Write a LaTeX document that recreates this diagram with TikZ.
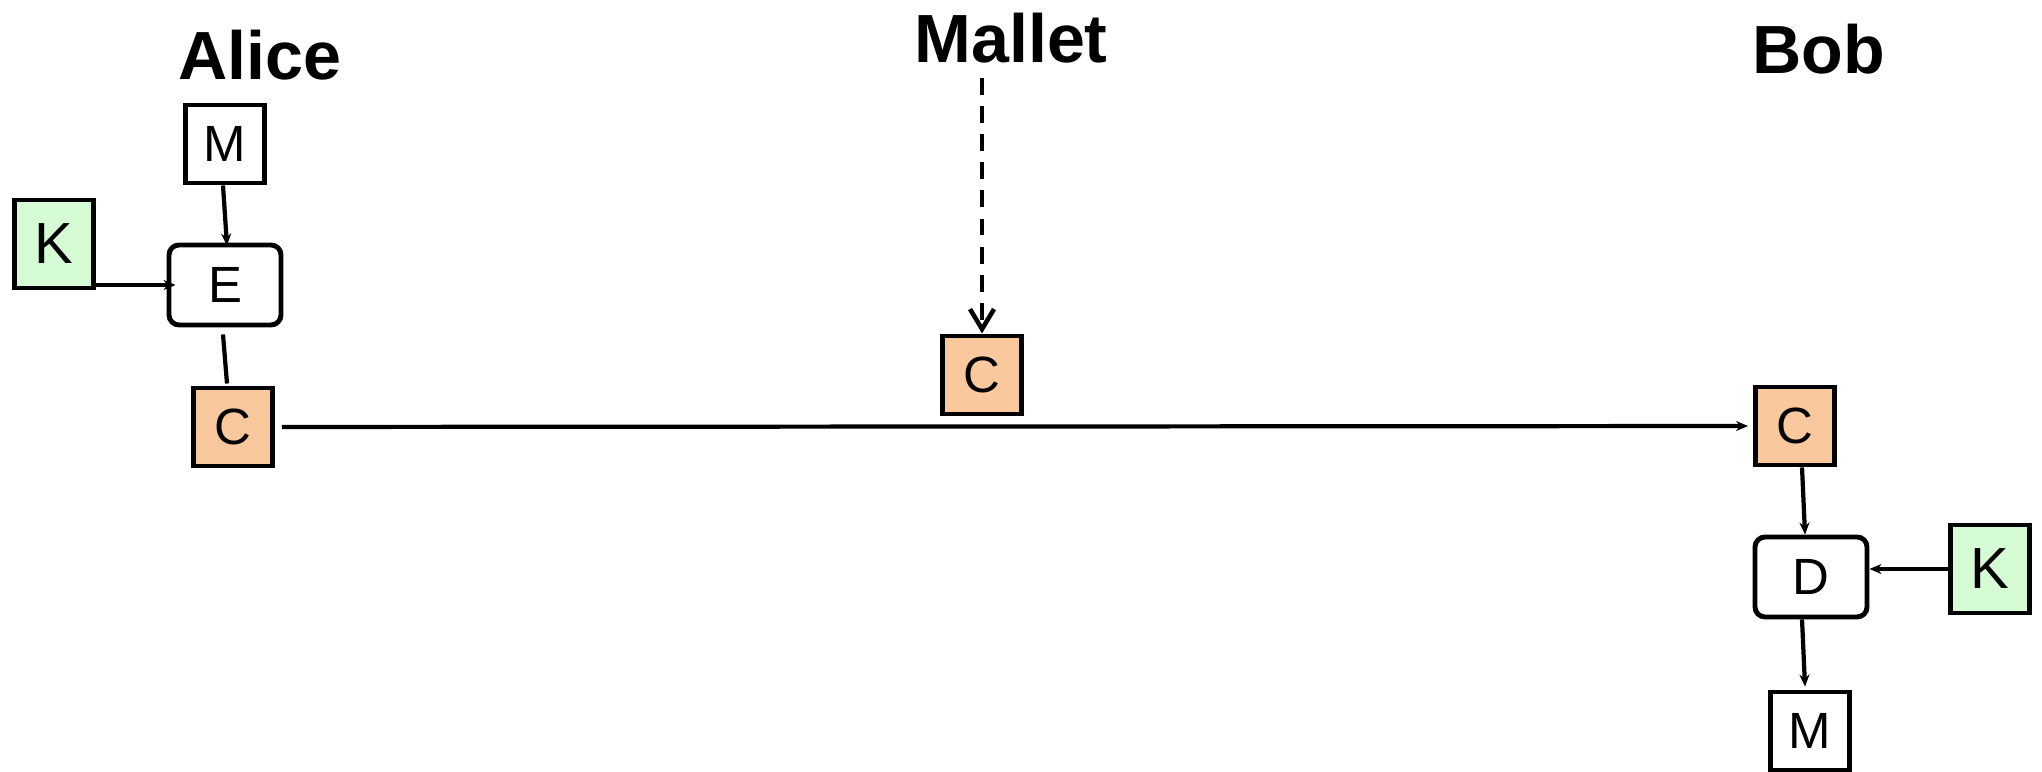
\documentclass[tikz,border=0pt]{standalone}
\usepackage{fontspec}
\setmainfont{Liberation Sans}
\usetikzlibrary{arrows.meta}
\definecolor{keygreen}{RGB}{213,252,213}
\definecolor{cipherorange}{RGB}{249,200,157}

\begin{document}
\begin{tikzpicture}[
    box/.style={draw,line width=1.4pt,minimum width=0.79cm,minimum height=0.78cm,inner sep=0pt,font=\fontsize{14.5}{14.5}\selectfont},
    keybox/.style={box,fill=keygreen,minimum height=0.88cm,font=\fontsize{16.5}{16.5}\selectfont},
    cbox/.style={box,fill=cipherorange},
    op/.style={box,rounded corners=0.1cm,minimum width=1.12cm,minimum height=0.80cm},
    party/.style={font=\fontsize{19.4}{20}\selectfont\bfseries,anchor=base},
    flow/.style={line width=1.2pt,-{Stealth[length=0.12cm,width=0.10cm]}}
]
    \useasboundingbox (0,0) rectangle (20.42,-7.72);
    % Alice
    \begin{scope}
        \node[party] (alice) at (2.60,-0.80) {Alice};
        \node[box] (aliceM) at (2.25,-1.44) {M};
        \node[keybox] (aliceK) at (0.54,-2.44) {K};
        \node[op] (aliceE) at (2.25,-2.85) {E};
        \node[cbox] (aliceC) at (2.33,-4.27) {C};
        \draw[flow] ([xshift=-0.02cm]aliceM.south) -- ([xshift=0.02cm,yshift=-0.03cm]aliceE.north);
        \draw[flow] (aliceK.east |- aliceE.west) -- ([xshift=0.09cm]aliceE.west);
        \draw[line width=1.2pt] ([xshift=-0.02cm,yshift=-0.07cm]aliceE.south) -- ([xshift=-0.06cm,yshift=0.02cm]aliceC.north);
    \end{scope}
    % Mallet
    \begin{scope}
        \node[party] (mallet) at (10.11,-0.63) {Mallet};
        \node[cbox] (malletC) at (9.82,-3.75) {C};
        \draw[line width=1.3pt,dash pattern=on 4.8pt off 3.2pt,-{Straight Barb[length=0.2cm,width=0.24cm]}]
            ([yshift=-0.15cm]mallet.base -| malletC.north) -- (malletC.north);
    \end{scope}
    % Bob
    \begin{scope}
        \node[party] (bob) at (18.19,-0.74) {Bob};
        \node[cbox] (bobC) at (17.95,-4.26) {C};
        \node[op] (bobD) at (18.11,-5.77) {D};
        \node[keybox] (bobK) at (19.90,-5.69) {K};
        \node[box] (bobM) at (18.10,-7.31) {M};
        \draw[flow] ([xshift=0.07cm]bobC.south) -- ([xshift=-0.06cm]bobD.north);
        \draw[flow] (bobK.west) -- (bobK.west -| bobD.east);
        \draw[flow] ([xshift=-0.09cm]bobD.south) -- ([xshift=-0.05cm,yshift=0.03cm]bobM.north);
    \end{scope}
    % the ciphertext on the wire
    \draw[flow,shorten <=0.07cm,shorten >=0.05cm] (aliceC) -- (bobC);
\end{tikzpicture}
\end{document}
